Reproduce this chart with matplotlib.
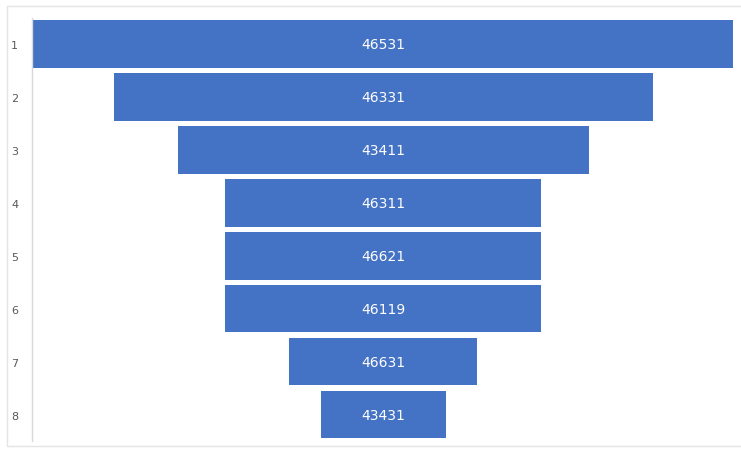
import matplotlib
matplotlib.use("Agg")
import matplotlib.pyplot as plt
from matplotlib.patches import Rectangle

stages = ["1", "2", "3", "4", "5", "6", "7", "8"]
values = [46531, 46331, 43411, 46311, 46621, 46119, 46631, 43431]
widths = [700, 539, 411, 316, 316, 316, 188, 125]

bar_color = "#4472C4"

fig = plt.figure(figsize=(7.41, 4.52), dpi=100)
fig.patch.set_facecolor("white")
# faint outer frame
fig.patches.append(Rectangle((7/741, 5/452), 1, 1 - 12/452, transform=fig.transFigure,
                             fill=False, edgecolor="#e4e4e4", linewidth=1.0))

ax = fig.add_axes([32/741, 1 - 442/452, (736 - 32)/741, (442 - 18.5)/452])
ypos = list(range(len(stages)))
lefts = [-w / 2 for w in widths]
ax.barh(ypos, widths, left=lefts, height=0.9, color=bar_color, edgecolor="none")
for y, v in zip(ypos, values):
    ax.text(0, y, str(v), ha="center", va="center", color="white", fontsize=10)

ax.set_ylim(len(stages) - 0.5, -0.5)
ax.set_xlim(-351, 353)
ax.set_yticks(ypos)
ax.set_yticklabels(stages, fontsize=8, color="#595959")
ax.tick_params(axis="y", length=0, pad=10)
ax.set_xticks([])
for s in ["top", "right", "bottom"]:
    ax.spines[s].set_visible(False)
ax.spines["left"].set_color("#d9d9d9")
ax.spines["left"].set_linewidth(1.0)

fig.savefig("out.png", dpi=100, facecolor="white")
